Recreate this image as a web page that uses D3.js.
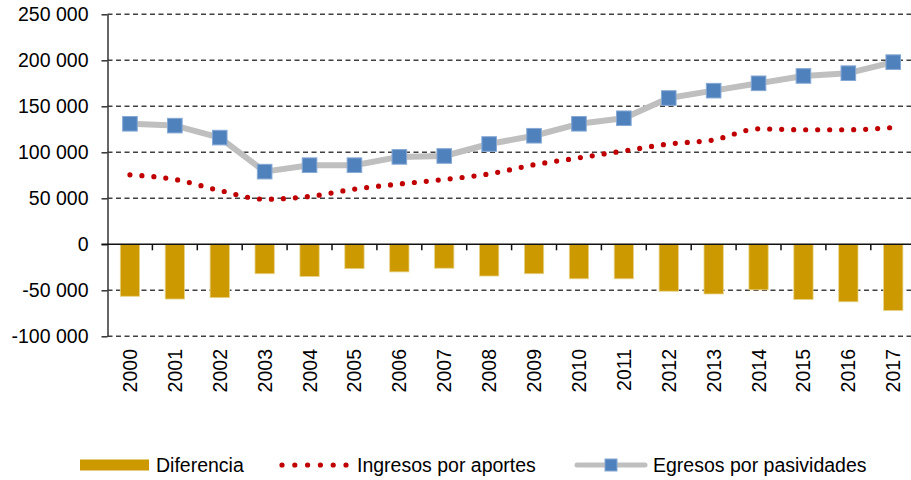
<!DOCTYPE html>
<html>
<head>
<meta charset="utf-8">
<script src="https://cdn.jsdelivr.net/npm/d3@7"></script>
<style>
html,body{margin:0;padding:0;background:#fff;}
svg{display:block;}
text{font-family:"Liberation Sans",Arial,sans-serif;fill:#000;}
</style>
</head>
<body>
<svg id="chart" width="911" height="480"></svg>
<script>
const years = ["2000","2001","2002","2003","2004","2005","2006","2007","2008","2009","2010","2011","2012","2013","2014","2015","2016","2017"];
const diferencia = [-56500,-59500,-58000,-32000,-35000,-26500,-30000,-26000,-34500,-32000,-37500,-37500,-51000,-54000,-49500,-60000,-62500,-72000];
const ingresos = [75500,70500,58500,49000,52000,60000,65500,70500,76500,86500,94000,101500,109000,113500,125500,124500,124500,127000];
const egresos = [131000,129000,116000,79000,86000,86000,95000,96000,109000,118000,131000,137000,159000,167000,175000,183000,186000,198000];
const yTicks = [-100000,-50000,0,50000,100000,150000,200000,250000];
const seriesNames = ["Diferencia","Ingresos por aportes","Egresos por pasividades"];

const svg = d3.select("#chart");
const x0 = 107.5, bandW = 44.9;
const x = d3.scaleBand().domain(years).range([x0, x0 + bandW*years.length]).padding(0);
const y = d3.scaleLinear().domain([-100000, 250000]).range([336.3, 14.3]);
const fmt = v => d3.format(",")(v).replace(/,/g, " ").replace("\u2212", "-");
const FS = "19.5px";

// gridlines
const grid = svg.append("g");
grid.selectAll("line").data(yTicks.filter(t => t !== 0)).join("line")
  .attr("x1", x0).attr("x2", 911)
  .attr("y1", d => y(d)).attr("y2", d => y(d))
  .attr("stroke", "#404040").attr("stroke-width", 1.5)
  .attr("stroke-dasharray", "5,3.5");

// bars
svg.append("g").selectAll("rect").data(diferencia).join("rect")
  .attr("x", (d,i) => x(years[i]) + x.bandwidth()*0.285)
  .attr("width", x.bandwidth()*0.43)
  .attr("y", d => y(Math.max(0,d)))
  .attr("height", d => Math.abs(y(d) - y(0)))
  .attr("fill", "#CC9900")
  .attr("stroke", "#E8D48A").attr("stroke-width", 0.8);

// y axis
const yAxis = d3.axisLeft(y).tickValues(yTicks).tickFormat(fmt).tickSize(6).tickSizeOuter(0);
const gy = svg.append("g").attr("transform", `translate(${x0},0)`).call(yAxis);
gy.select(".domain").attr("stroke", "#333").attr("stroke-width", 1.5);
gy.selectAll(".tick line").attr("stroke", "#333").attr("stroke-width", 1.5);
gy.selectAll(".tick text").attr("x", -19).attr("font-size", FS)
  .attr("font-family", '"Liberation Sans",Arial,sans-serif').attr("fill", "#000");

// x axis at zero
const bounds = d3.range(1, years.length);
const gx = svg.append("g");
gx.append("line").attr("x1", x0 - 6).attr("x2", 911).attr("y1", y(0)).attr("y2", y(0))
  .attr("stroke", "#111").attr("stroke-width", 1.5);
gx.selectAll("line.tk").data(bounds).join("line").attr("class","tk")
  .attr("x1", i => x0 + i*bandW).attr("x2", i => x0 + i*bandW)
  .attr("y1", y(0)).attr("y2", y(0) + 6)
  .attr("stroke", "#111").attr("stroke-width", 1.5);

// x labels
svg.append("g").selectAll("text").data(years).join("text")
  .attr("transform", d => `translate(${x(d) + x.bandwidth()/2 + 7},349) rotate(-90)`)
  .attr("text-anchor", "end").attr("font-size", FS).text(d => d);

// egresos line
const lineE = d3.line().x((d,i) => x(years[i]) + x.bandwidth()/2).y(d => y(d));
svg.append("path").datum(egresos).attr("d", lineE)
  .attr("fill", "none").attr("stroke", "#BFBFBF").attr("stroke-width", 6).attr("stroke-linejoin", "round");

// ingresos dotted
const lineI = d3.line().x((d,i) => x(years[i]) + x.bandwidth()/2).y(d => y(d)).curve(d3.curveMonotoneX);
svg.append("path").datum(ingresos).attr("d", lineI)
  .attr("fill", "none").attr("stroke", "#C00000").attr("stroke-width", 5.2)
  .attr("stroke-linecap", "round").attr("stroke-dasharray", "0,12");

// egresos markers
svg.append("g").selectAll("rect").data(egresos).join("rect")
  .attr("x", (d,i) => x(years[i]) + x.bandwidth()/2 - 7.3)
  .attr("y", d => y(d) - 7.3)
  .attr("width", 14.6).attr("height", 14.6)
  .attr("fill", "#4F81BD").attr("stroke", "#86A8D4").attr("stroke-width", 1);

// legend
const lg = svg.append("g");
const ly = 465;
lg.append("rect").attr("x", 80).attr("y", ly - 5.5).attr("width", 69).attr("height", 11).attr("fill", "#CC9900");
lg.append("text").attr("x", 156).attr("y", ly + 7).attr("font-size", FS).text(seriesNames[0]);
lg.append("line").attr("x1", 282).attr("x2", 347).attr("y1", ly).attr("y2", ly)
  .attr("stroke", "#C00000").attr("stroke-width", 5.2).attr("stroke-linecap", "round").attr("stroke-dasharray", "0,12.8");
lg.append("text").attr("x", 357).attr("y", ly + 7).attr("font-size", FS).text(seriesNames[1]);
lg.append("line").attr("x1", 577).attr("x2", 645).attr("y1", ly).attr("y2", ly)
  .attr("stroke", "#BFBFBF").attr("stroke-width", 5).attr("stroke-linecap", "round");
lg.append("rect").attr("x", 605).attr("y", ly - 6).attr("width", 12).attr("height", 12)
  .attr("fill", "#4F81BD").attr("stroke", "#86A8D4").attr("stroke-width", 1);
lg.append("text").attr("x", 653).attr("y", ly + 7).attr("font-size", FS).text(seriesNames[2]);
</script>
</body>
</html>
